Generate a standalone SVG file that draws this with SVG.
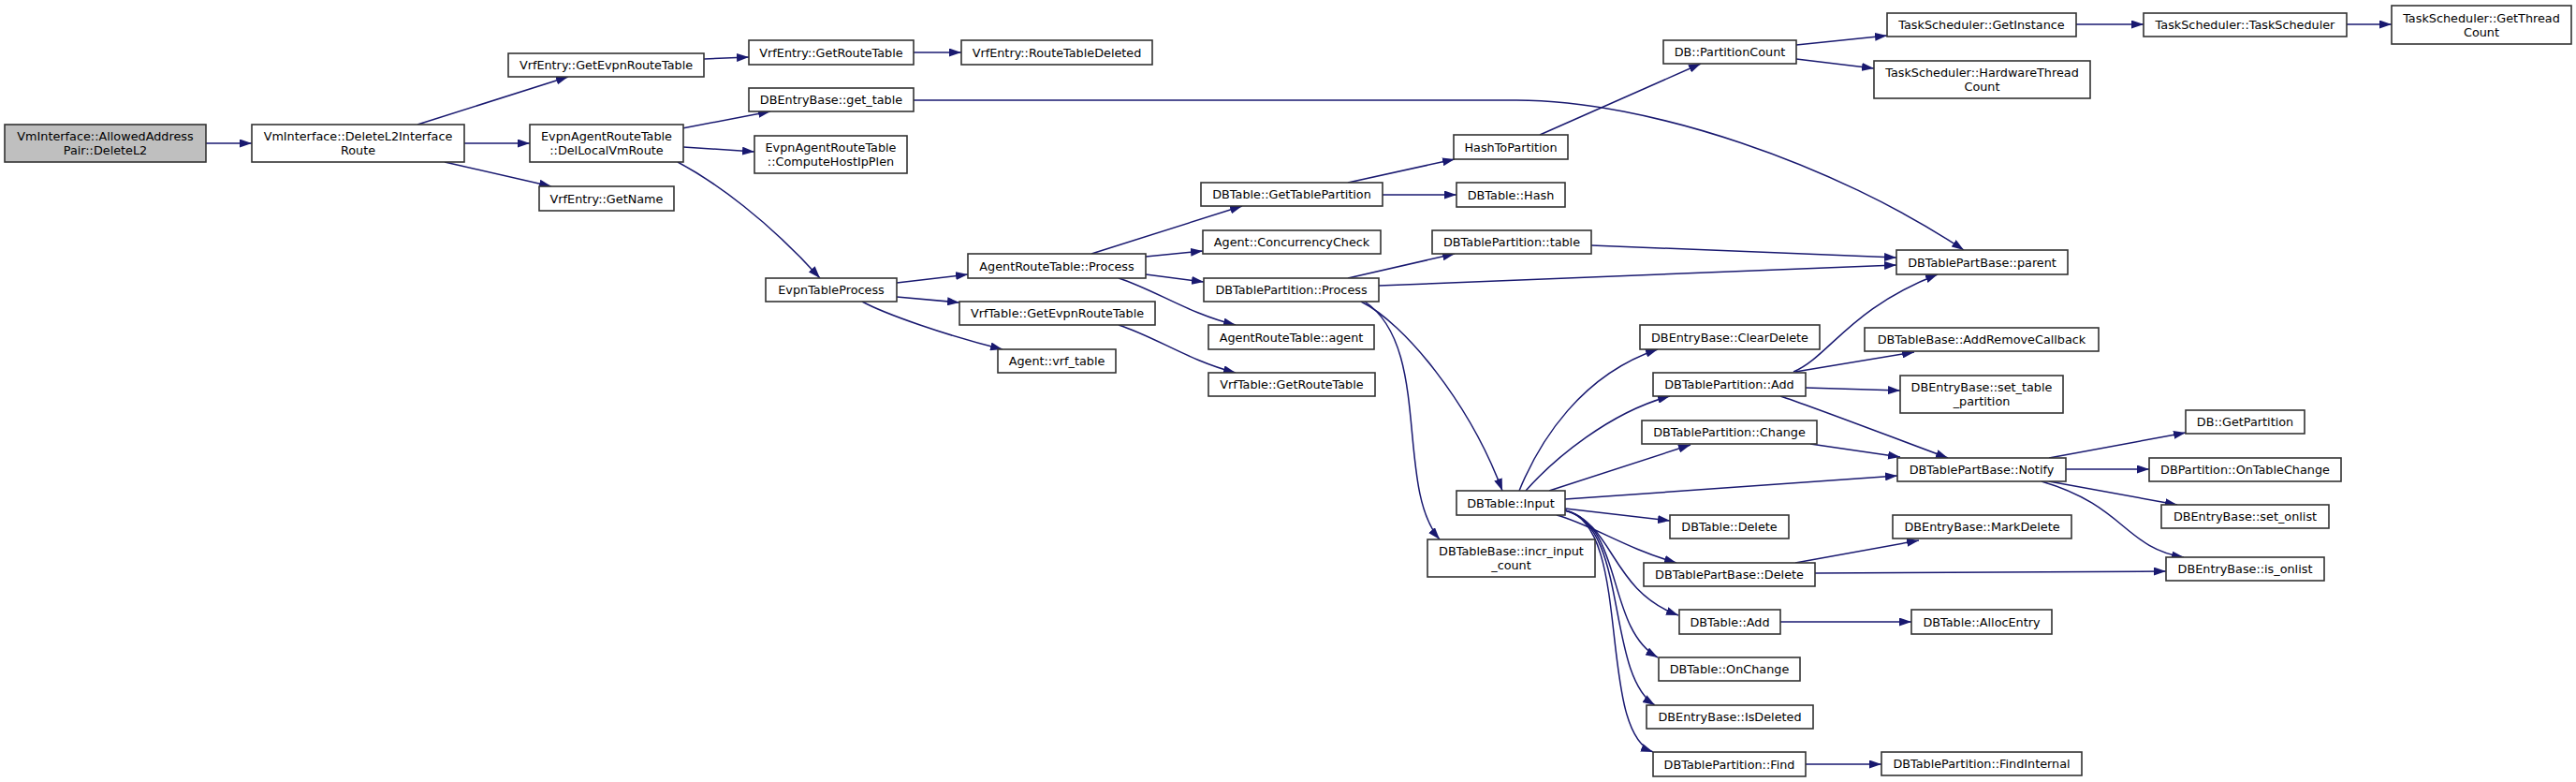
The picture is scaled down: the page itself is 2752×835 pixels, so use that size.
<svg xmlns="http://www.w3.org/2000/svg" width="2752" height="835" viewBox="0 0 2752 835">
<style>
.n rect{fill:#fff;stroke:#333;stroke-width:1.6}
.n.root rect{fill:#bfbfbf}
.n text{font-family:"DejaVu Sans","Liberation Sans",sans-serif;font-size:12.8px;fill:#000;text-anchor:middle}
.e path{fill:none;stroke:#191970;stroke-width:1.5;marker-end:url(#ah)}
</style>
<defs>
<marker id="ah" viewBox="0 0 13 9" refX="13" refY="4.5" markerWidth="13" markerHeight="9" markerUnits="userSpaceOnUse" orient="auto">
<path d="M0,0 L13,4.5 L0,9 z" fill="#191970"/>
</marker>
</defs>
<rect width="2752" height="835" fill="#fff"/>
<g id="edges" class="e">
<path d="M220,153 L269,153"/>
<path d="M446,133 L607,82"/>
<path d="M496,153 L566,153"/>
<path d="M475,173 L589,199"/>
<path d="M752,63 L800,61"/>
<path d="M976,56 L1027,56"/>
<path d="M729,137 L823,119"/>
<path d="M730,157 L806,162"/>
<path d="M724,173 C765,195 820,235 876,297"/>
<path d="M976,107 L1620,107 C1760,107 1960,175 2098,267"/>
<path d="M958,302 L1034,293"/>
<path d="M958,317 L1025,323"/>
<path d="M921,322 C945,335 1010,358 1071,373"/>
<path d="M1195,347 C1235,360 1270,385 1320,398"/>
<path d="M1166,271 L1327,220"/>
<path d="M1224,274 L1285,268"/>
<path d="M1224,293 L1286,301"/>
<path d="M1195,297 C1235,310 1270,335 1320,347"/>
<path d="M1440,195 L1554,170"/>
<path d="M1477,208 L1556,208"/>
<path d="M1645,144 L1817,68"/>
<path d="M1919,48 L2016,38"/>
<path d="M1919,63 L2002,73"/>
<path d="M2218,26 L2290,26"/>
<path d="M2507,26 L2555,26"/>
<path d="M1440,297 L1554,271"/>
<path d="M1473,305 L2026,283"/>
<path d="M1454,322 C1500,345 1570,430 1605,524"/>
<path d="M1458,322 C1530,370 1490,520 1538,576"/>
<path d="M1700,262 L2026,275"/>
<path d="M1623,524 C1645,470 1690,400 1771,373"/>
<path d="M1630,524 C1660,490 1720,440 1784,423"/>
<path d="M1655,524 L1806,475"/>
<path d="M1672,533 L2027,508"/>
<path d="M1672,543 L1784,556"/>
<path d="M1663,550 C1700,560 1735,585 1791,601"/>
<path d="M1672,545 C1725,560 1720,630 1793,657"/>
<path d="M1672,545 C1735,560 1715,670 1771,702"/>
<path d="M1672,545 C1740,560 1715,720 1768,753"/>
<path d="M1672,545 C1745,560 1705,780 1766,803"/>
<path d="M1916,397 C1955,380 1975,330 2070,293"/>
<path d="M1918,397 L2045,376"/>
<path d="M1929,414 L2030,417"/>
<path d="M1902,423 C1930,432 1990,455 2081,489"/>
<path d="M1934,474 L2030,488"/>
<path d="M2189,489 L2335,462"/>
<path d="M2207,501 L2296,501"/>
<path d="M2189,514 L2326,539"/>
<path d="M2181,514 C2270,540 2270,585 2333,595"/>
<path d="M1918,601 L2050,577"/>
<path d="M1939,612 L2314,610"/>
<path d="M1902,664 L2042,664"/>
<path d="M1929,816 L2010,816"/>
</g>
<g id="n0" class="n root"><rect x="5" y="133" width="215" height="40"/><text x="112.5" y="150">VmInterface::AllowedAddress</text><text x="112.5" y="165">Pair::DeleteL2</text></g>
<g id="n1" class="n"><rect x="269" y="133" width="227" height="40"/><text x="382.5" y="150">VmInterface::DeleteL2Interface</text><text x="382.5" y="165">Route</text></g>
<g id="n2" class="n"><rect x="543" y="57" width="209" height="25"/><text x="647.5" y="74">VrfEntry::GetEvpnRouteTable</text></g>
<g id="n3" class="n"><rect x="566" y="133" width="164" height="40"/><text x="648" y="150">EvpnAgentRouteTable</text><text x="648" y="165">::DelLocalVmRoute</text></g>
<g id="n4" class="n"><rect x="576" y="199" width="144" height="26"/><text x="648" y="216.5">VrfEntry::GetName</text></g>
<g id="n5" class="n"><rect x="800" y="43" width="176" height="26"/><text x="888" y="60.5">VrfEntry::GetRouteTable</text></g>
<g id="n6" class="n"><rect x="1027" y="43" width="204" height="26"/><text x="1129" y="60.5">VrfEntry::RouteTableDeleted</text></g>
<g id="n7" class="n"><rect x="800" y="94" width="176" height="25"/><text x="888" y="111">DBEntryBase::get_table</text></g>
<g id="n8" class="n"><rect x="806" y="145" width="163" height="40"/><text x="887.5" y="162">EvpnAgentRouteTable</text><text x="887.5" y="177">::ComputeHostIpPlen</text></g>
<g id="n9" class="n"><rect x="1283" y="195" width="194" height="25"/><text x="1380" y="212">DBTable::GetTablePartition</text></g>
<g id="n10" class="n"><rect x="1285" y="246" width="190" height="25"/><text x="1380" y="263">Agent::ConcurrencyCheck</text></g>
<g id="n11" class="n"><rect x="1777" y="43" width="142" height="25"/><text x="1848" y="60">DB::PartitionCount</text></g>
<g id="n12" class="n"><rect x="2016" y="14" width="202" height="25"/><text x="2117" y="31">TaskScheduler::GetInstance</text></g>
<g id="n13" class="n"><rect x="2002" y="65" width="231" height="40"/><text x="2117.5" y="82">TaskScheduler::HardwareThread</text><text x="2117.5" y="97">Count</text></g>
<g id="n14" class="n"><rect x="1553" y="144" width="122" height="26"/><text x="1614" y="161.5">HashToPartition</text></g>
<g id="n15" class="n"><rect x="1556" y="195" width="116" height="26"/><text x="1614" y="212.5">DBTable::Hash</text></g>
<g id="n16" class="n"><rect x="1530" y="246" width="170" height="25"/><text x="1615" y="263">DBTablePartition::table</text></g>
<g id="n17" class="n"><rect x="2026" y="267" width="183" height="26"/><text x="2117.5" y="284.5">DBTablePartBase::parent</text></g>
<g id="n18" class="n"><rect x="2290" y="14" width="217" height="25"/><text x="2398.5" y="31">TaskScheduler::TaskScheduler</text></g>
<g id="n19" class="n"><rect x="2555" y="6" width="192" height="41"/><text x="2651" y="23.5">TaskScheduler::GetThread</text><text x="2651" y="38.5">Count</text></g>
<g id="n20" class="n"><rect x="818" y="297" width="140" height="25"/><text x="888" y="314">EvpnTableProcess</text></g>
<g id="n21" class="n"><rect x="1034" y="271" width="190" height="26"/><text x="1129" y="288.5">AgentRouteTable::Process</text></g>
<g id="n22" class="n"><rect x="1025" y="322" width="209" height="25"/><text x="1129.5" y="339">VrfTable::GetEvpnRouteTable</text></g>
<g id="n23" class="n"><rect x="1066" y="373" width="126" height="25"/><text x="1129" y="390">Agent::vrf_table</text></g>
<g id="n24" class="n"><rect x="1286" y="297" width="187" height="25"/><text x="1379.5" y="314">DBTablePartition::Process</text></g>
<g id="n25" class="n"><rect x="1291" y="347" width="177" height="26"/><text x="1379.5" y="364.5">AgentRouteTable::agent</text></g>
<g id="n26" class="n"><rect x="1291" y="398" width="178" height="25"/><text x="1380" y="415">VrfTable::GetRouteTable</text></g>
<g id="n27" class="n"><rect x="1752" y="347" width="192" height="26"/><text x="1848" y="364.5">DBEntryBase::ClearDelete</text></g>
<g id="n28" class="n"><rect x="1766" y="398" width="163" height="25"/><text x="1847.5" y="415">DBTablePartition::Add</text></g>
<g id="n29" class="n"><rect x="1992" y="350" width="250" height="25"/><text x="2117" y="367">DBTableBase::AddRemoveCallback</text></g>
<g id="n30" class="n"><rect x="2030" y="401" width="174" height="40"/><text x="2117" y="418">DBEntryBase::set_table</text><text x="2117" y="433">_partition</text></g>
<g id="n31" class="n"><rect x="1754" y="449" width="187" height="25"/><text x="1847.5" y="466">DBTablePartition::Change</text></g>
<g id="n32" class="n"><rect x="2027" y="489" width="180" height="25"/><text x="2117" y="506">DBTablePartBase::Notify</text></g>
<g id="n33" class="n"><rect x="1556" y="524" width="116" height="26"/><text x="1614" y="541.5">DBTable::Input</text></g>
<g id="n34" class="n"><rect x="1784" y="550" width="127" height="25"/><text x="1847.5" y="567">DBTable::Delete</text></g>
<g id="n35" class="n"><rect x="2022" y="550" width="191" height="25"/><text x="2117.5" y="567">DBEntryBase::MarkDelete</text></g>
<g id="n36" class="n"><rect x="2335" y="438" width="127" height="25"/><text x="2398.5" y="455">DB::GetPartition</text></g>
<g id="n37" class="n"><rect x="2296" y="489" width="205" height="25"/><text x="2398.5" y="506">DBPartition::OnTableChange</text></g>
<g id="n38" class="n"><rect x="2309" y="539" width="179" height="25"/><text x="2398.5" y="556">DBEntryBase::set_onlist</text></g>
<g id="n39" class="n"><rect x="2314" y="595" width="169" height="25"/><text x="2398.5" y="612">DBEntryBase::is_onlist</text></g>
<g id="n40" class="n"><rect x="2042" y="651" width="150" height="26"/><text x="2117" y="668.5">DBTable::AllocEntry</text></g>
<g id="n41" class="n"><rect x="2010" y="803" width="214" height="25"/><text x="2117" y="820">DBTablePartition::FindInternal</text></g>
<g id="n42" class="n"><rect x="1756" y="601" width="183" height="25"/><text x="1847.5" y="618">DBTablePartBase::Delete</text></g>
<g id="n43" class="n"><rect x="1794" y="651" width="108" height="26"/><text x="1848" y="668.5">DBTable::Add</text></g>
<g id="n44" class="n"><rect x="1772" y="702" width="151" height="25"/><text x="1847.5" y="719">DBTable::OnChange</text></g>
<g id="n45" class="n"><rect x="1759" y="753" width="178" height="25"/><text x="1848" y="770">DBEntryBase::IsDeleted</text></g>
<g id="n46" class="n"><rect x="1766" y="803" width="163" height="26"/><text x="1847.5" y="820.5">DBTablePartition::Find</text></g>
<g id="n47" class="n"><rect x="1525" y="576" width="179" height="40"/><text x="1614.5" y="593">DBTableBase::incr_input</text><text x="1614.5" y="608">_count</text></g>
</svg>
